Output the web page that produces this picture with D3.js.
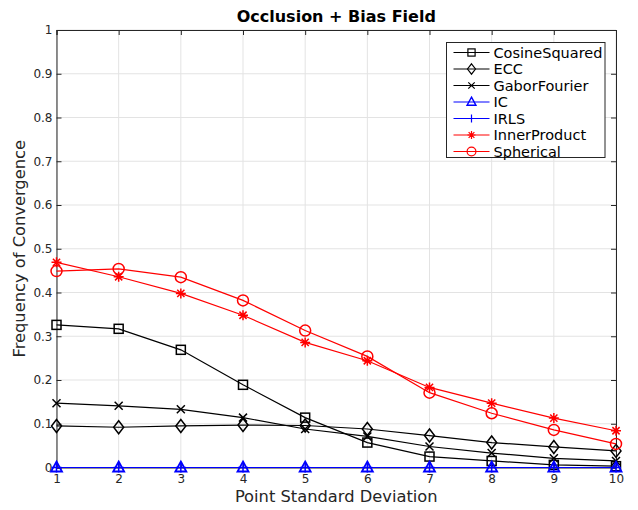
<!DOCTYPE html>
<html>
<head>
<meta charset="utf-8">
<script src="https://cdn.jsdelivr.net/npm/d3@7"></script>
<style>
  body { margin: 0; background: #fff; }
  text { font-family: "DejaVu Sans", sans-serif; }
</style>
</head>
<body>
<svg id="chart" width="638" height="510"></svg>
<script>
// Point standard deviation values on the x axis
const xValues = [1, 2, 3, 4, 5, 6, 7, 8, 9, 10];

// Frequency of convergence per method
const cosineSquared = [0.326, 0.317, 0.269, 0.189, 0.114, 0.057, 0.025, 0.015, 0.006, 0.003];
const ecc = [0.095, 0.092, 0.095, 0.097, 0.096, 0.088, 0.073, 0.057, 0.047, 0.038];
const gaborFourier = [0.147, 0.141, 0.133, 0.114, 0.088, 0.071, 0.048, 0.033, 0.021, 0.015];
const ic = [0, 0, 0, 0, 0, 0, 0, 0, 0, 0];
const irls = [0, 0, 0, 0, 0, 0, 0, 0, 0, 0];
const innerProduct = [0.469, 0.436, 0.398, 0.348, 0.286, 0.244, 0.183, 0.147, 0.113, 0.084];
const spherical = [0.449, 0.454, 0.435, 0.382, 0.313, 0.254, 0.171, 0.124, 0.086, 0.054];

const yTicks = [0, 0.1, 0.2, 0.3, 0.4, 0.5, 0.6, 0.7, 0.8, 0.9, 1];
const yTickLabels = ["0", "0.1", "0.2", "0.3", "0.4", "0.5", "0.6", "0.7", "0.8", "0.9", "1"];

const series = [
    { name: "CosineSquared", values: cosineSquared, color: "#000", marker: "square" },
    { name: "ECC", values: ecc, color: "#000", marker: "diamond" },
    { name: "GaborFourier", values: gaborFourier, color: "#000", marker: "x" },
    { name: "IC", values: ic, color: "#0000ff", marker: "triangle" },
    { name: "IRLS", values: irls, color: "#0000ff", marker: "plus" },
    { name: "InnerProduct", values: innerProduct, color: "#ff0000", marker: "asterisk" },
    { name: "Spherical", values: spherical, color: "#ff0000", marker: "circle" }
];

const svg = d3.select("#chart");
const margin = { left: 56.5, right: 22, top: 30, bottom: 42.5 };
const width = 638 - margin.left - margin.right;
const height = 510 - margin.top - margin.bottom;
const axisColor = "#262626";

const x = d3.scaleLinear().domain([1, 10]).range([0, width]);
const y = d3.scaleLinear().domain([0, 1]).range([height, 0]);

const g = svg.append("g").attr("transform", `translate(${margin.left},${margin.top})`);

// Grid lines
g.append("g").selectAll("line").data(xValues).join("line")
    .attr("x1", d => x(d)).attr("x2", d => x(d))
    .attr("y1", 0).attr("y2", height)
    .attr("stroke", "#e3e3e3").attr("stroke-width", 1);
g.append("g").selectAll("line").data(yTicks).join("line")
    .attr("x1", 0).attr("x2", width)
    .attr("y1", d => y(d)).attr("y2", d => y(d))
    .attr("stroke", "#e3e3e3").attr("stroke-width", 1);

// Axes (ticks point inward, MATLAB-style box)
const xAxis = g.append("g").attr("transform", `translate(0,${height})`)
    .call(d3.axisBottom(x).tickValues(xValues).tickSize(-5).tickPadding(7).tickFormat(d3.format("d")));
const yAxis = g.append("g")
    .call(d3.axisLeft(y).tickValues(yTicks).tickSize(-5).tickPadding(4).tickFormat((d, i) => yTickLabels[i]));
const xTop = g.append("g")
    .call(d3.axisTop(x).tickValues(xValues).tickSize(-5).tickFormat(""));
const yRight = g.append("g").attr("transform", `translate(${width},0)`)
    .call(d3.axisRight(y).tickValues(yTicks).tickSize(-5).tickFormat(""));

[xAxis, yAxis, xTop, yRight].forEach(a => {
    a.select(".domain").attr("stroke", axisColor);
    a.selectAll(".tick line").attr("stroke", axisColor);
    a.selectAll(".tick text").attr("fill", axisColor).style("font-size", "12px");
});

// Marker drawing
function drawMarker(sel, type, color) {
    const s = sel.append("g").attr("fill", "none").attr("stroke", color).attr("stroke-width", 1.5);
    if (type === "square") {
        s.append("rect").attr("x", -4.5).attr("y", -4.5).attr("width", 9).attr("height", 9);
    } else if (type === "diamond") {
        s.append("path").attr("d", "M0,-6.5L5,0L0,6.5L-5,0Z");
    } else if (type === "x") {
        s.append("path").attr("d", "M-4,-4L4,4M-4,4L4,-4");
    } else if (type === "triangle") {
        s.append("path").attr("d", "M0,-6L5.5,4L-5.5,4Z").attr("stroke-width", 1.8);
    } else if (type === "plus") {
        s.append("path").attr("d", "M-5,0L5,0M0,-5L0,5");
    } else if (type === "asterisk") {
        s.append("path").attr("d", "M-5,0L5,0M0,-5L0,5M-3.6,-3.6L3.6,3.6M-3.6,3.6L3.6,-3.6");
    } else if (type === "circle") {
        s.append("circle").attr("r", 5.5);
    }
}

const line = d3.line().x((d, i) => x(xValues[i])).y(d => y(d));

series.forEach(s => {
    const sg = g.append("g");
    sg.append("path").datum(s.values)
        .attr("d", line)
        .attr("fill", "none")
        .attr("stroke", s.color)
        .attr("stroke-width", 1.2);
    s.values.forEach((v, i) => {
        const m = sg.append("g").attr("transform", `translate(${x(xValues[i])},${y(v)})`);
        drawMarker(m, s.marker, s.color);
    });
});

// Titles
svg.append("text")
    .attr("x", margin.left + width / 2).attr("y", 22)
    .attr("text-anchor", "middle")
    .style("font-size", "16px").style("font-weight", "bold")
    .attr("fill", "#000")
    .text("Occlusion + Bias Field");

svg.append("text")
    .attr("x", margin.left + width / 2).attr("y", 502)
    .attr("text-anchor", "middle")
    .style("font-size", "16.3px")
    .attr("fill", axisColor)
    .text("Point Standard Deviation");

svg.append("text")
    .attr("transform", `translate(25,${margin.top + height / 2}) rotate(-90)`)
    .attr("text-anchor", "middle")
    .style("font-size", "16.3px")
    .attr("fill", axisColor)
    .text("Frequency of Convergence");

// Legend
const legend = svg.append("g").attr("transform", "translate(446.5,42.5)");
legend.append("rect")
    .attr("width", 158.5).attr("height", 115)
    .attr("fill", "#fff").attr("stroke", axisColor).attr("stroke-width", 1);

series.forEach((s, i) => {
    const row = legend.append("g").attr("transform", `translate(0,${10 + i * 16.5})`);
    row.append("line")
        .attr("x1", 7).attr("x2", 43)
        .attr("stroke", s.color).attr("stroke-width", 1.2);
    const m = row.append("g").attr("transform", "translate(25,0)");
    drawMarker(m, s.marker, s.color);
    m.attr("transform", "translate(25,0) scale(0.8)");
    row.append("text")
        .attr("x", 47).attr("y", 5)
        .style("font-size", "14.5px")
        .attr("fill", "#000")
        .text(s.name);
});
</script>
</body>
</html>
